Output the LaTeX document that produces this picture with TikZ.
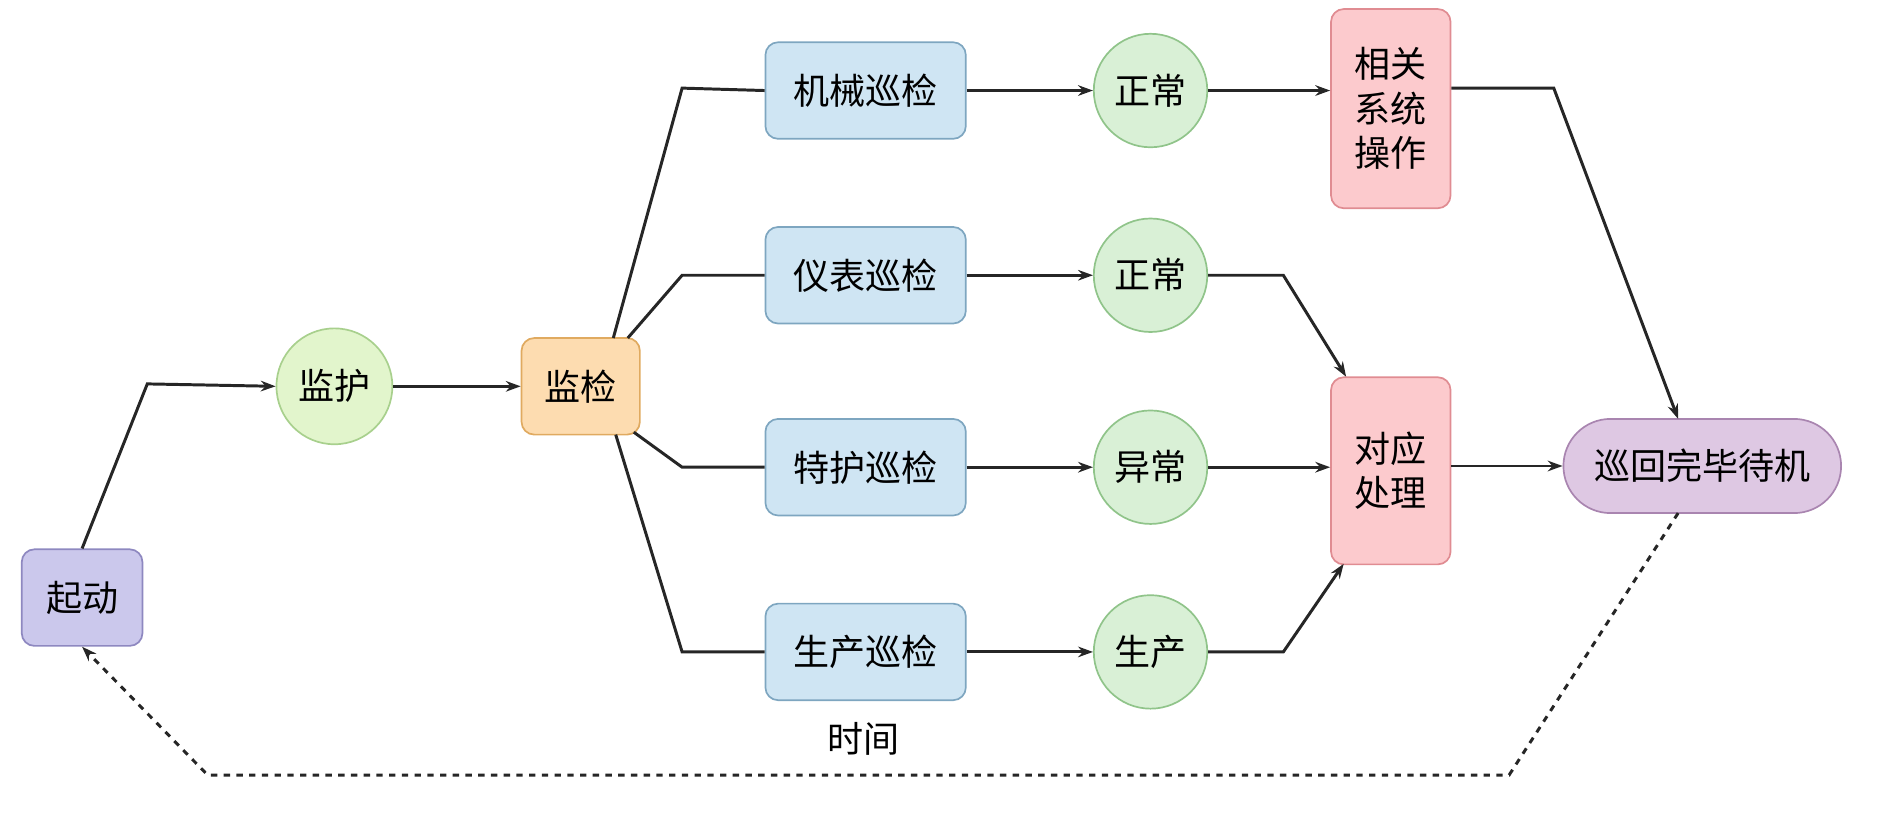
\documentclass[tikz,border=0pt]{standalone}
\usepackage{fontspec}
\setmainfont{Noto Sans CJK SC}
\usetikzlibrary{arrows.meta}
\definecolor{pfill}{HTML}{CBC8EC}\definecolor{pdraw}{HTML}{8E88C0}
\definecolor{gfill}{HTML}{E2F5CC}\definecolor{gdraw}{HTML}{A8D08D}
\definecolor{ofill}{HTML}{FDDCB0}\definecolor{odraw}{HTML}{E0AA60}
\definecolor{bfill}{HTML}{CFE5F3}\definecolor{bdraw}{HTML}{7EA6C0}
\definecolor{cfill}{HTML}{D9F0D6}\definecolor{cdraw}{HTML}{90C48A}
\definecolor{rfill}{HTML}{FCCACD}\definecolor{rdraw}{HTML}{E08C92}
\definecolor{vfill}{HTML}{DEC8E3}\definecolor{vdraw}{HTML}{A985B0}
\begin{document}
\begin{tikzpicture}[x=0.02cm,y=-0.02cm,
  every node/.style={font=\fontsize{17}{21}\selectfont, inner sep=0pt, align=center},
  box/.style={rounded corners=6pt, line width=0.8pt},
  circ/.style={circle, minimum size=94\pgflinewidth, line width=0.8pt},
  ln/.style={line width=1.4pt, black!85},
  ar/.style={ln, -{Stealth[length=7pt,width=5pt]}}]
\useasboundingbox (0,0) rectangle (1568,688);
\node[box, fill=pfill, draw=pdraw, minimum width=100*0.02cm, minimum height=80*0.02cm] (qd) at (68,495) {起动};
\node[circle, fill=gfill, draw=gdraw, line width=0.8pt, minimum size=96*0.02cm] (jh) at (277,320) {监护};
\node[box, fill=ofill, draw=odraw, minimum width=98*0.02cm, minimum height=80*0.02cm] (jj) at (481,320) {监检};
\foreach \n/\t/\y in {b1/机械巡检/75, b2/仪表巡检/228, b3/特护巡检/387, b4/生产巡检/540}
  \node[box, fill=bfill, draw=bdraw, minimum width=166*0.02cm, minimum height=80*0.02cm] (\n) at (717,\y) {\t};
\foreach \n/\t/\y in {c1/正常/75, c2/正常/228, c3/异常/387, c4/生产/540}
  \node[circle, fill=cfill, draw=cdraw, line width=0.8pt, minimum size=94*0.02cm] (\n) at (953,\y) {\t};
\node[box, fill=rfill, draw=rdraw, minimum width=99*0.02cm, minimum height=165*0.02cm] (xg) at (1152,90) {相关\\系统\\操作};
\node[box, fill=rfill, draw=rdraw, minimum width=99*0.02cm, minimum height=155*0.02cm] (dy) at (1152,390) {对应\\处理};
\node[rounded corners=39*0.02cm, line width=0.8pt, fill=vfill, draw=vdraw, minimum width=230*0.02cm, minimum height=78*0.02cm] (xh) at (1410,386) {巡回完毕待机};
\node (sj) at (715,612) {时间};
\draw[ar] (qd.north) -- (122,318) -- (jh.west);
\draw[ar] (jh) -- (jj);
\draw[ln] (508,280) -- (565,73) -- (b1.west);
\draw[ln] (520,280) -- (565,228) -- (b2.west);
\draw[ln] (525,358) -- (565,387) -- (b3.west);
\draw[ln] (510,360) -- (565,540) -- (b4.west);
\foreach \i in {1,2,3,4} \draw[ar] (b\i) -- (c\i);
\draw[ar] (c1) -- (xg.west |- c1);
\draw[ar] (c2) -- (1063,228) -- (1115,312);
\draw[ar] (c3) -- (dy.west |- c3);
\draw[ar] (c4) -- (1063,540) -- (1113,467);
\draw[ar] (xg.east |- 0,73) -- (1287,73) -- (1390,347);
\draw[ar] (dy.east |- xh) -- (xh.west);
\draw[ar, dashed] (1390,425) -- (1250,642) -- (172,642) -- (qd.south);
\end{tikzpicture}
\end{document}
